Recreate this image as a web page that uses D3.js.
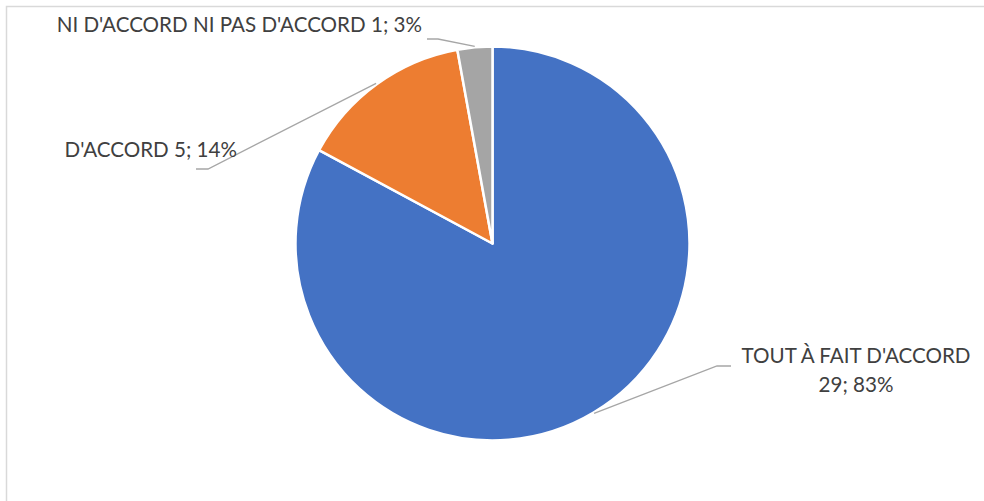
<!DOCTYPE html>
<html>
<head>
<meta charset="utf-8">
<script src="https://cdn.jsdelivr.net/npm/d3@7"></script>
<style>
  html, body { margin: 0; padding: 0; background: #ffffff; }
  svg { display: block; }
  text { font-family: Lato, "Open Sans", sans-serif; fill: #404040; }
</style>
</head>
<body>
<svg id="chart" width="984" height="501"></svg>
<script>
// ---- data ----
const categories = ["TOUT À FAIT D'ACCORD", "D'ACCORD", "NI D'ACCORD NI PAS D'ACCORD"];
const counts = [29, 5, 1];
const colors = ["#4472C4", "#ED7D31", "#A5A5A5"];

const W = 984, H = 501;
const svg = d3.select("#chart");

// frame
svg.append("path")
  .attr("d", `M6.5,${H} V6.5 H${W}`)
  .attr("fill", "none").attr("stroke", "#d9d9d9").attr("stroke-width", 1.5);

const cx = 492.5, cy = 243.5, R = 197;
const total = d3.sum(counts);
const data = categories.map((c, i) => ({ cat: c, value: counts[i], color: colors[i] }));

const pie = d3.pie().value(d => d.value).sort(null);
const arcs = pie(data);
const arc = d3.arc().innerRadius(0).outerRadius(R);

const g = svg.append("g").attr("transform", `translate(${cx},${cy})`);
g.selectAll("path.slice").data(arcs).join("path")
  .attr("class", "slice")
  .attr("d", arc)
  .attr("fill", d => d.data.color)
  .attr("stroke", "#ffffff").attr("stroke-width", 2.5).attr("stroke-linejoin", "round");

// label layout (elbow point, horizontal run, text anchor) per slice, relative to pie centre
const layout = [
  { elbow: [224.5, 122.5], run: 14, text: [{ x: 363.5, y: 119.5 }, { x: 363.5, y: 148.5 }], anchor: "middle", multiline: true },
  { elbow: [-284.5, -74.5], run: -12, text: [{ x: -255.5, y: -86.5 }], anchor: "end" },
  { elbow: [-54.5, -204.5], run: -11, text: [{ x: -70.5, y: -211.5 }], anchor: "end" }
];

const pct = v => Math.round(v / total * 100) + "%";

arcs.forEach((a, i) => {
  const L = layout[i];
  const mid = (a.startAngle + a.endAngle) / 2;
  const p0 = [Math.sin(mid) * (R + 1), -Math.cos(mid) * (R + 1)];
  const p1 = L.elbow;
  const p2 = [L.elbow[0] + L.run, L.elbow[1]];
  g.append("polyline")
    .attr("points", [p0, p1, p2].map(p => p.join(",")).join(" "))
    .attr("fill", "none").attr("stroke", "#a6a6a6").attr("stroke-width", 1.3);
  const lines = L.multiline
    ? [a.data.cat, a.data.value + "; " + pct(a.data.value)]
    : [a.data.cat + " " + a.data.value + "; " + pct(a.data.value)];
  lines.forEach((t, j) => {
    g.append("text")
      .attr("x", L.text[j].x).attr("y", L.text[j].y)
      .attr("text-anchor", L.anchor)
      .attr("font-size", 20.6)
      .text(t);
  });
});
</script>
</body>
</html>
